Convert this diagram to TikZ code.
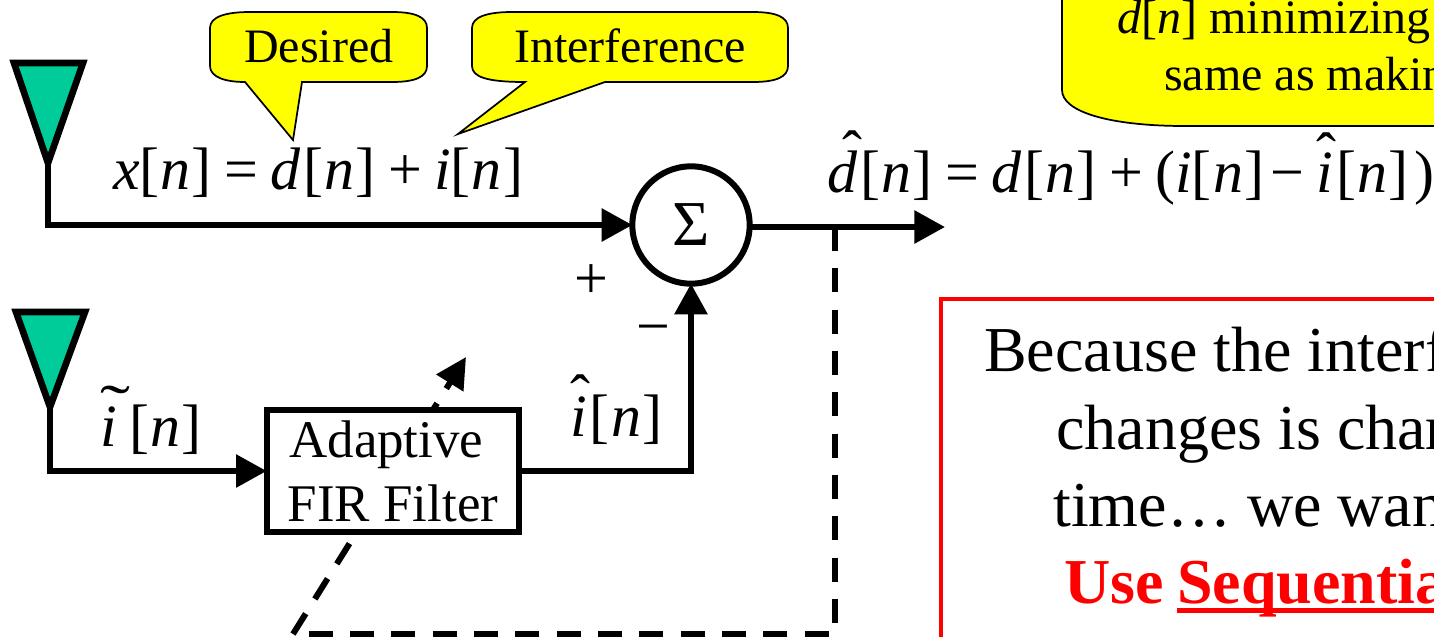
\documentclass[tikz,border=0pt]{standalone}
\usepackage{xcolor}
\usepackage{fontspec}
\setmainfont{Liberation Serif}
\usetikzlibrary{arrows.meta,positioning,calc}
\definecolor{AntennaTeal}{HTML}{00CC99}
\definecolor{CalloutYellow}{HTML}{FFFF00}
\definecolor{NoteRed}{HTML}{FF0000}
\newcommand{\vr}[1]{\textit{#1}}
\newcommand{\idx}{\kern.05em[\kern.02em\textit{n}\kern.02em]}
\newcommand{\opr}[1]{\kern.21em#1\kern.2em}
\newcommand{\overmark}[3]{\leavevmode\rlap{\raisebox{#2}{\normalfont#1}}#3}
\newcommand{\ruled}[1]{\sbox0{#1}\rlap{\rule[-.16em]{\wd0}{.085em}}\box0}
\begin{document}
\begin{tikzpicture}[
  x=0.75pt,y=-0.75pt,
  callout/.style={draw=black,fill=CalloutYellow,line width=1.3pt},
  antenna/.style={draw=black,fill=AntennaTeal,line width=5pt,miter limit=10},
  wire/.style={draw=black,line width=4.5pt},
  feed/.style={wire,-{Triangle[length=23pt,width=24pt]}},
  tune/.style={draw=black,line width=4.5pt,dash pattern=on 18pt off 13pt},
  label/.style={inner sep=0pt,anchor=base west},
  say/.style={label,font=\fontsize{36pt}{36pt}\selectfont},
  eqn/.style={label,font=\fontsize{45pt}{45pt}\selectfont},
  note/.style={label,font=\fontsize{48pt}{48pt}\selectfont},
  sumnode/.style={circle,draw=black,fill=white,line width=4.5pt,minimum size=88pt,inner sep=0pt,outer sep=0pt,font=\fontsize{48pt}{48pt}\selectfont},
  firbox/.style={rectangle,draw=black,fill=white,line width=4.5pt,minimum width=189.5pt,minimum height=91pt,inner sep=0pt,outer sep=0pt,align=center,font=\fontsize{39.7pt}{48pt}\selectfont},
  redbox/.style={rectangle,draw=NoteRed,line width=3pt,minimum width=500pt,minimum height=300pt,anchor=north west,outer sep=0pt}
]
\useasboundingbox (0,0) rectangle (1434,636);
\clip (0,0) rectangle (1434,636);
\draw[callout] (210,28) .. controls (210,17) and (225,12) .. (250,12) -- (392,12)
  .. controls (415,12) and (427,17) .. (427,28) -- (427,66)
  .. controls (427,77) and (415,82) .. (392,82) -- (302,82) -- (293,140) -- (245,82)
  .. controls (225,82) and (210,77) .. (210,66) -- cycle;
\draw[callout] (472,28) .. controls (472,17) and (487,12) .. (512,12) -- (753,12)
  .. controls (776,12) and (788,17) .. (788,28) -- (788,66)
  .. controls (788,77) and (776,82) .. (753,82) -- (605,82) -- (458,134) -- (525,82)
  .. controls (487,82) and (472,77) .. (472,66) -- cycle;
\draw[callout] (1062,-20) -- (1062,90) .. controls (1062,112) and (1110,126) .. (1185,126)
  -- (1500,126) -- (1500,-20) -- cycle;
\node[say] (desired) at (244,62) {Desired};
\node[say] (interference) at (514,62) {Interference};
\node[say] (minimizing) at (1117,33) {\vr{d}[\vr{n}] minimizing};
\node[say] (sameas) at (1164,90) {same as makin};
\draw[antenna] (14,63) -- (83,63) -- (48,163) -- cycle;
\draw[antenna] (16,312) -- (85,312) -- (50,407) -- cycle;
\coordinate (rxa) at (48,163);
\coordinate (rxb) at (50,407);
\node[sumnode] (sum) at (691,225) {Σ};
\coordinate (tap) at (835,227);
\coordinate (corner) at (835,634);
\coordinate (foot) at (293,634);
\coordinate (aim) at (466,357);
\coordinate (out) at (945,227);
\draw[tune] (tap) -- (corner) -- (foot);
\draw[tune,-{Triangle[length=23pt,width=23pt]}] (foot) -- (aim);
\node[firbox] (fir) at (393,471) {Adaptive\hspace*{10pt}\\FIR Filter};
\draw[feed] (rxa) |- (sum.west);
\draw[feed] (rxb) |- (fir.west);
\draw[feed] (fir.east) -| (sum.south);
\draw[feed] (sum.east |- tap) -- (out);
\node[eqn] (xeq) at (113,189) {\vr{x}\kern-.06em\idx\opr{=}\vr{d}\idx\opr{+}\vr{i}\kern-.05em\idx};
\node[eqn] (dhateq) at (827,192) {\overmark{\kern.25em ˆ}{.33em}{\vr{d}}\idx\opr{=}\vr{d}\idx\opr{+}(\vr{i}\kern-.05em\idx\kern-.1em\opr{−}\overmark{ˆ}{.3em}{\vr{i}}\idx\kern.1em)};
\node[eqn] (itilde) at (100,446) {\overmark{\scalebox{1.5}[1]{˜}}{.33em}{\vr{i}}\kern.16em\idx};
\node[eqn] (ihat) at (570,436) {\overmark{ˆ}{.33em}{\vr{i}}\idx};
\node[eqn] (plus) at (574,298) {+};
\node[eqn] (minus) at (636,346) {−};
\node[redbox] (box) at (941,299) {};
\node[note] (lineone) at (984,371) {Because the interf};
\node[note] (linetwo) at (1056,449) {changes is char};
\node[note] (linethree) at (1053,526) {time… we wan};
\node[note,text=NoteRed,font=\fontsize{48pt}{48pt}\selectfont\bfseries] (linefour) at (1064,603) {Use\hspace{-2pt} \ruled{Sequentia}};
\end{tikzpicture}
\end{document}
